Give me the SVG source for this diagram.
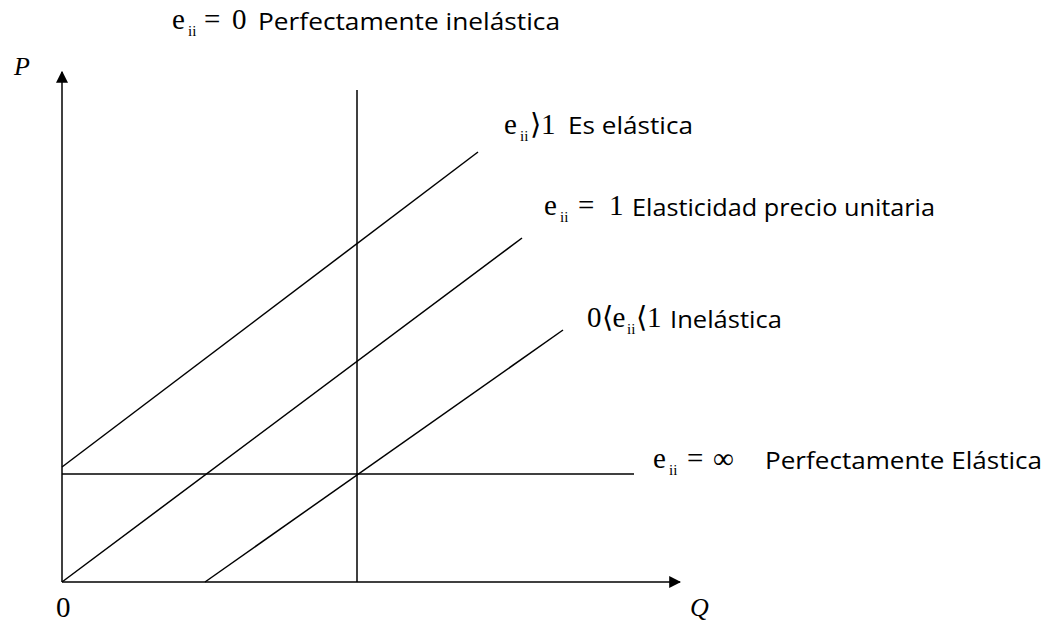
<svg xmlns="http://www.w3.org/2000/svg" width="1047" height="624" viewBox="0 0 1047 624">
<style>
.ln{stroke:#000;stroke-width:1.5;fill:none}
.m{font-family:"Liberation Serif",serif;font-size:29px;fill:#000}
.s{font-family:"Liberation Serif",serif;font-size:15px;fill:#000}
.w{font-family:"Open Sans","Liberation Sans",sans-serif;font-size:24px;fill:#000}
.ax{font-family:"Liberation Serif",serif;font-style:italic;font-size:26px;fill:#000}
</style>
<defs>
<marker id="ah" viewBox="0 0 10 10" refX="9" refY="5" markerWidth="12" markerHeight="12" markerUnits="userSpaceOnUse" orient="auto"><path d="M0,0 L10,5 L0,10 z" fill="#000"/></marker>
</defs>
<g id="connectors">
<line class="ln" x1="62" y1="582" x2="62" y2="72" marker-end="url(#ah)"/>
<line class="ln" x1="62" y1="582" x2="680" y2="582" marker-end="url(#ah)"/>
<line class="ln" x1="357" y1="90" x2="357" y2="582"/>
<line class="ln" x1="62" y1="474" x2="634" y2="474"/>
<line class="ln" x1="62" y1="467" x2="478" y2="152"/>
<line class="ln" x1="62" y1="582" x2="522" y2="238"/>
<line class="ln" x1="205" y1="582" x2="563" y2="330"/>
</g>
<g id="axis-labels">
<text class="ax" x="14" y="75">P</text>
<text class="ax" x="690" y="616">Q</text>
<text class="m" x="56" y="617">0</text>
</g>
<g id="label-inelastic-perfect">
<text class="m" x="172" y="29">e</text><text class="s" x="188" y="36">ii</text>
<text class="m" x="204" y="29">=</text><text class="m" x="232" y="29">0</text>
<text class="w" x="258" y="30" textLength="302" lengthAdjust="spacingAndGlyphs">Perfectamente inelástica</text>
</g>
<g id="label-elastic">
<text class="m" x="504" y="134">e</text><text class="s" x="520" y="141">ii</text>
<text class="m" x="530" y="134">⟩1</text>
<text class="w" x="568" y="134" textLength="125" lengthAdjust="spacingAndGlyphs">Es elástica</text>
</g>
<g id="label-unit">
<text class="m" x="544" y="215">e</text><text class="s" x="560" y="222">ii</text>
<text class="m" x="578" y="215">=</text><text class="m" x="609" y="215">1</text>
<text class="w" x="632" y="216" textLength="303" lengthAdjust="spacingAndGlyphs">Elasticidad precio unitaria</text>
</g>
<g id="label-inelastic">
<text class="m" x="587" y="327">0⟨e</text><text class="s" x="627" y="334">ii</text>
<text class="m" x="636" y="327">⟨1</text>
<text class="w" x="670" y="328" textLength="112" lengthAdjust="spacingAndGlyphs">Inelástica</text>
</g>
<g id="label-perfect-elastic">
<text class="m" x="653" y="468">e</text><text class="s" x="669" y="475">ii</text>
<text class="m" x="687" y="468">=</text><text class="m" x="713" y="468">∞</text>
<text class="w" x="765" y="469" textLength="277" lengthAdjust="spacingAndGlyphs">Perfectamente Elástica</text>
</g>
</svg>
